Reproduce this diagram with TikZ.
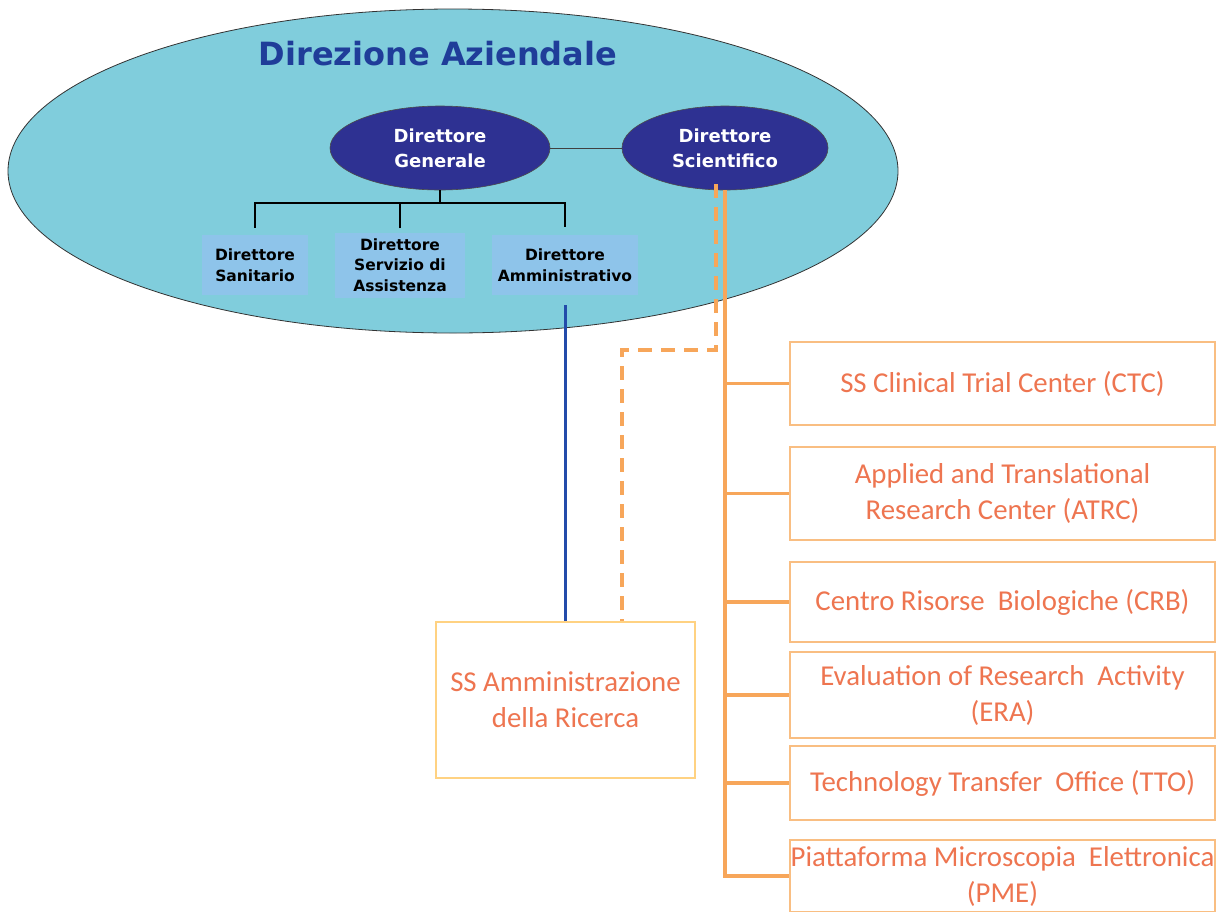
\documentclass[tikz,border=0pt]{standalone}
\usepackage{fontspec}
\setmainfont{Carlito}
\newfontfamily\topfont{DejaVu Sans}
\usetikzlibrary{shapes.geometric}

\definecolor{dircyan}{RGB}{128,205,220}
\definecolor{dirnavy}{RGB}{46,49,146}
\definecolor{dirtitle}{RGB}{31,61,153}
\definecolor{dirbox}{RGB}{142,196,234}
\definecolor{orline}{RGB}{247,166,90}
\definecolor{orbox}{RGB}{249,190,130}
\definecolor{ortext}{RGB}{238,117,80}
\definecolor{ssbox}{RGB}{255,210,130}
\definecolor{admline}{RGB}{35,75,170}

\tikzset{
  capo/.style={ellipse, fill=dirnavy, draw=black!70, line width=0.6pt,
    minimum width=220, minimum height=84, inner sep=0pt, align=center,
    text=white, font=\topfont\bfseries\fontsize{18}{25}\selectfont},
  vice/.style={fill=dirbox, inner sep=0pt, align=center,
    minimum height=60, font=\topfont\bfseries\fontsize{15.5}{20.5}\selectfont},
  ufficio/.style={draw=orbox, line width=2pt, fill=white, text=ortext,
    minimum width=425, inner sep=0pt, align=center,
    font=\fontsize{28.8}{36}\selectfont},
  ramo/.style={orline, line width=3.2pt},
}

\begin{document}
\begin{tikzpicture}[x=1pt, y=-1pt]
  \useasboundingbox[fill=white] (0,0) rectangle (1217,911);

  % Direzione
  \node[ellipse, fill=dircyan, draw=black!80, line width=0.8pt,
    minimum width=890, minimum height=324, inner sep=0pt] (dir) at (453,171) {};
  \node[text=dirtitle, font=\topfont\bfseries\fontsize{32}{36}\selectfont]
    (titolo) at (438,54) {Direzione Aziendale};

  \node[capo] (dg) at (440,148) {Direttore\\Generale};
  \node[capo, minimum width=206] (ds) at (725,148) {Direttore\\Scientifico};
  \draw[black!75, line width=1pt] (dg) -- (ds);

  % Direttori
  \node[vice, minimum width=106] (san) at (255,265) {Direttore\\Sanitario};
  \node[vice, minimum width=130, minimum height=65] (ass) at (400,265)
    {Direttore\\Servizio di\\Assistenza};
  \node[vice, minimum width=146] (amm) at (565,265) {Direttore\\Amministrativo};

  \coordinate (nodo) at (440,203);
  \draw[black, line width=2.4pt] (dg.south) -- (nodo);
  \draw[black, line width=2.4pt] (san.north) ++(0,-7) |- (nodo -| amm.north) -- ++(0,24);
  \draw[black, line width=2.4pt] (ass.north) ++(0,-4) -- (ass.north |- nodo);

  % SS Amministrazione
  \node[draw=ssbox, line width=2pt, fill=white, text=ortext,
    minimum width=259, minimum height=156, inner sep=0pt, align=center,
    font=\fontsize{28.8}{36}\selectfont] (ssa) at (565.5,700)
    {SS Amministrazione\\della Ricerca};
  \draw[admline, line width=3pt] (amm.south) ++(0,10) -- (amm.south |- ssa.north);

  \coordinate (piega) at (716,350);
  \draw[ramo, dash pattern=on 14pt off 9pt] (ds.south) ++(-9,-6) -- (piega)
    -- (piega -| 622,0) -- (622,0 |- ssa.north);

  % Uffici
  \node[ufficio, minimum height=83] (ctc) at (1002.5,383.5) {SS Clinical Trial Center (CTC)};
  \node[ufficio, minimum height=93] (atrc) at (1002.5,493.5)
    {Applied and Translational\\Research Center (ATRC)};
  \node[ufficio, minimum height=80] (crb) at (1002.5,602) {Centro Risorse\ \ Biologiche (CRB)};
  \node[ufficio, minimum height=86] (era) at (1002.5,695)
    {Evaluation of Research\ \ Activity\\(ERA)};
  \node[ufficio, minimum height=74] (tto) at (1002.5,783) {Technology Transfer\ \ Office (TTO)};
  \node[ufficio, minimum height=72] (pme) at (1002.5,876)
    {Piattaforma Microscopia\ \ Elettronica\\(PME)};

  \coordinate (tronco) at (ds.south |- pme.west);
  \draw[ramo] (ds.south) -- (tronco) -- (pme.west);
  \foreach \u in {ctc,atrc,crb,era,tto} {
    \draw[ramo] (ds.south |- \u.west) -- (\u.west);
  }
\end{tikzpicture}
\end{document}
